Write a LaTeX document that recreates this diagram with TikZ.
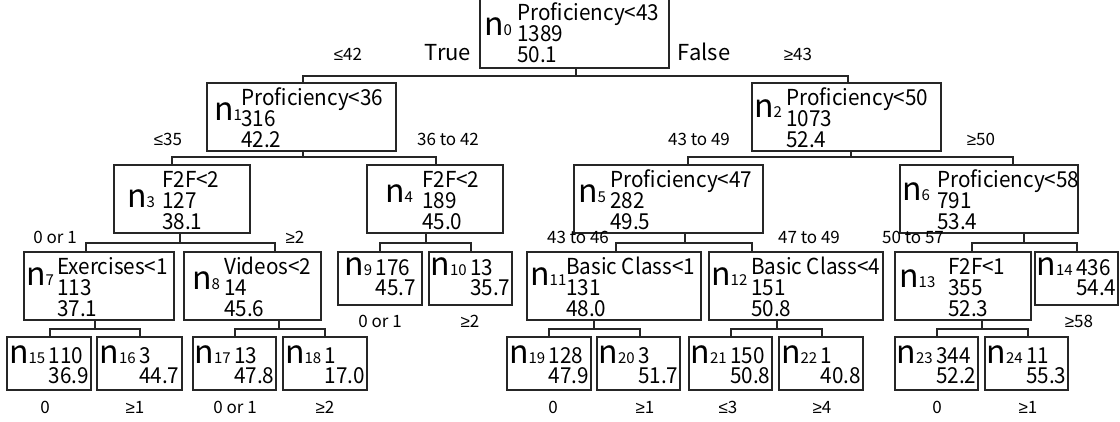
\documentclass[tikz,border=0pt]{standalone}
\usepackage{fontspec}
\setmainfont{Noto Sans CJK JP}
\newfontfamily\nodef[FakeStretch=0.94]{Noto Sans CJK JP}
\newfontfamily\symf{Liberation Sans}
\newfontfamily\subf[Numbers=Proportional]{Noto Sans CJK JP}
\newcommand\GE{{\symf ≥}}
\newcommand\LE{{\symf ≤}}
\newcommand\ntxt{\nodef\fontsize{22}{22}\selectfont}
\newcommand\ltxt{\nodef\fontsize{22}{20.5}\selectfont}
\newcommand\nbig{\fontsize{32}{32}\selectfont}
\newcommand\nsub{\subf\fontsize{15}{15}\selectfont}
\newcommand\lbl{\fontsize{17}{17}\selectfont}
\newcommand\tfl{\fontsize{22}{22}\selectfont}
\tikzset{
 box/.style={draw=black!85, line width=1.2pt, inner sep=0pt, outer sep=0pt},
 txt/.style={anchor=base west, inner sep=0pt, font=\ntxt},
 nlab/.style={anchor=base west, inner sep=0pt},
 leaftxt/.style={anchor=base, inner sep=0pt},
 edge/.style={draw=black!85, line width=1.2pt},
 elab/.style={anchor=base, inner sep=0pt, font=\lbl},
 tlab/.style={anchor=base, inner sep=0pt, font=\tfl},
}
\newcommand\mkbox[5]{\node[box, minimum width={(#4-#2)*1pt}, minimum height={(#5-#3)*1pt}] (#1) at ({(#2+#4)/2},{(#3+#5)/2}) {};}
\newcommand\mklab[4]{\node[nlab] (#1-n) at (#2,#3) {\nbig n\nsub #4};}
\newcommand\mkthree[6]{%
 \node[txt] (#1-a) at (#2,{#3+22}) {#4};
 \node[txt] (#1-b) at (#2,{#3+43}) {#5};
 \node[txt] (#1-c) at (#2,{#3+64}) {#6};}
% leaf: name, left, top, right, bottom, first baseline, number, line1, line2
\newcommand\mkleaf[9]{%
 \mkbox{#1}{#2}{#3}{#4}{#5}
 \node[leaftxt] (#1-t) at ({(#2+#4)/2},#6) {{\nbig n}{\nsub #7}\hspace{3.5pt}\vtop{\ltxt\baselineskip=20.5pt\hbox{#8}\hbox{#9}}};}
\newcommand\mksplit[7]{%
 \coordinate (#1-s) at (#2,#3);
 \coordinate (#1-l) at (#4,#3);
 \coordinate (#1-r) at (#5,#3);
 \draw[edge] (#1.south -| #1-s) -- (#1-s);
 \draw[edge] (#6.north -| #1-l) -- (#1-l) -- (#1-r) -- (#7.north -| #1-r);}
\begin{document}
\begin{tikzpicture}[x=1pt,y=-1pt]
\useasboundingbox (0,0) rectangle (1120,421);
% internal boxes
\mkbox{n0}{480}{-3}{669}{68}
\mkbox{n1}{207}{83}{396}{151}
\mkbox{n2}{752}{83}{941}{151}
\mkbox{n3}{114}{165}{250}{233}
\mkbox{n4}{367}{165}{503}{233}
\mkbox{n5}{574}{165}{763}{233}
\mkbox{n6}{900}{165}{1078}{233}
\mkbox{n7}{24}{252}{174}{320}
\mkbox{n8}{184}{252}{321}{320}
\mkbox{n11}{527}{252}{701}{320}
\mkbox{n12}{709}{252}{883}{320}
\mkbox{n13}{895}{252}{1031}{320}
% leaves
\mkleaf{n9}{338}{252}{422}{305}{275}{9}{176}{45.7}
\mkleaf{n10}{429}{252}{512}{305}{275}{10}{13}{35.7}
\mkleaf{n14}{1035}{252}{1118}{305}{275}{14}{436}{54.4}
\mkleaf{n15}{7}{337}{91}{390}{363}{15}{110}{36.9}
\mkleaf{n16}{97}{337}{182}{390}{363}{16}{3}{44.7}
\mkleaf{n17}{193}{337}{276}{390}{363}{17}{13}{47.8}
\mkleaf{n18}{283}{337}{367}{390}{363}{18}{1}{17.0}
\mkleaf{n19}{507}{337}{591}{390}{363}{19}{128}{47.9}
\mkleaf{n20}{597}{337}{680}{390}{363}{20}{3}{51.7}
\mkleaf{n21}{689}{337}{772}{390}{363}{21}{150}{50.8}
\mkleaf{n22}{779}{337}{863}{390}{363}{22}{1}{40.8}
\mkleaf{n23}{895}{337}{978}{390}{363}{23}{344}{52.2}
\mkleaf{n24}{985}{337}{1068}{390}{363}{24}{11}{55.3}
% connectors
\mksplit{n0}{576}{76}{303}{848}{n1}{n2}
\mksplit{n1}{303}{157}{172}{436}{n3}{n4}
\mksplit{n2}{851}{157}{688}{1013}{n5}{n6}
\mksplit{n3}{180}{243}{86}{275}{n7}{n8}
\mksplit{n4}{426}{243}{380}{471}{n9}{n10}
\mksplit{n5}{685}{243}{616}{752}{n11}{n12}
\mksplit{n6}{1024}{243}{972}{1077}{n13}{n14}
\mksplit{n7}{95}{329}{50}{140}{n15}{n16}
\mksplit{n8}{279}{329}{235}{325}{n17}{n18}
\mksplit{n11}{594}{329}{549}{640}{n19}{n20}
\mksplit{n12}{777}{329}{731}{822}{n21}{n22}
\mksplit{n13}{982}{329}{937}{1028}{n23}{n24}
% internal node labels
\mklab{n0}{484}{35}{0}
\mklab{n1}{214}{120}{1}
\mklab{n2}{754}{117}{2}
\mklab{n3}{127}{207}{3}
\mklab{n4}{385}{202}{4}
\mklab{n5}{578}{202}{5}
\mklab{n6}{902}{200}{6}
\mklab{n7}{26}{285}{7}
\mklab{n8}{192}{289}{8}
\mklab{n11}{530}{285}{11}
\mklab{n12}{711}{285}{12}
\mklab{n13}{899}{287}{13}
% internal node texts
\mkthree{n0}{517}{-2}{Proficiency<43}{1389}{50.1}
\mkthree{n1}{241}{83}{Proficiency<36}{316}{42.2}
\mkthree{n2}{786}{83}{Proficiency<50}{1073}{52.4}
\mkthree{n3}{162}{165}{F2F<2}{127}{38.1}
\mkthree{n4}{422}{165}{F2F<2}{189}{45.0}
\mkthree{n5}{610}{165}{Proficiency<47}{282}{49.5}
\mkthree{n6}{937}{165}{Proficiency<58}{791}{53.4}
\mkthree{n7}{57}{252}{Exercises<1}{113}{37.1}
\mkthree{n8}{224}{252}{Videos<2}{14}{45.6}
\mkthree{n11}{566}{252}{Basic Class<1}{131}{48.0}
\mkthree{n12}{751}{252}{Basic Class<4}{151}{50.8}
\mkthree{n13}{948}{252}{F2F<1}{355}{52.3}
% edge labels
\node[elab] (e1) at (348,60) {\LE42};
\node[tlab] (e2) at (448,60) {True};
\node[tlab] (e3) at (704,60) {False};
\node[elab] (e4) at (798,60) {\GE43};
\node[elab] (e5) at (168,145) {\LE35};
\node[elab] (e6) at (448,145) {36 to 42};
\node[elab] (e7) at (699,145) {43 to 49};
\node[elab] (e8) at (981,145) {\GE50};
\node[elab] (e9) at (55,243) {0 or 1};
\node[elab] (e10) at (295,243) {\GE2};
\node[elab] (e11) at (578,243) {43 to 46};
\node[elab] (e12) at (809,243) {47 to 49};
\node[elab] (e13) at (913,243) {50 to 57};
\node[elab] (e14) at (380,327) {0 or 1};
\node[elab] (e15) at (470,327) {\GE2};
\node[elab] (e16) at (1079,327) {\GE58};
\node[elab] (e17) at (45,413) {0};
\node[elab] (e18) at (135,413) {\GE1};
\node[elab] (e19) at (235,413) {0 or 1};
\node[elab] (e20) at (325,413) {\GE2};
\node[elab] (e21) at (553,413) {0};
\node[elab] (e22) at (645,413) {\GE1};
\node[elab] (e23) at (728,413) {\LE3};
\node[elab] (e24) at (822,413) {\GE4};
\node[elab] (e25) at (937,413) {0};
\node[elab] (e26) at (1028,413) {\GE1};
\end{tikzpicture}
\end{document}
